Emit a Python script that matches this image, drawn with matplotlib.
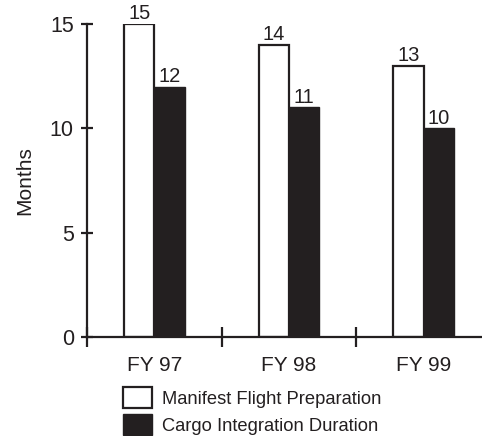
import matplotlib
matplotlib.use("Agg")
import matplotlib.pyplot as plt

# Fiscal-year durations (months)
categories = ["FY 97", "FY 98", "FY 99"]
manifest_prep = [15, 14, 13]
cargo_integration = [12, 11, 10]
series_names = ["Manifest Flight Preparation", "Cargo Integration Duration"]
y_ticks = [0, 5, 10, 15]

ink = "#231f20"
plt.rcParams["font.family"] = ["Liberation Sans", "DejaVu Sans"]

fig = plt.figure(figsize=(4.82, 4.36), dpi=100)
ax = fig.add_axes([0.1805, 0.2271, 0.83, 0.7179])

x = list(range(len(categories)))
w = 0.225
b1 = ax.bar([i - w / 2 for i in x], manifest_prep, width=w, color="white",
            edgecolor=ink, linewidth=1.6, label=series_names[0], zorder=2)
b2 = ax.bar([i + w / 2 for i in x], cargo_integration, width=w, color=ink,
            edgecolor=ink, linewidth=1.0, label=series_names[1], zorder=2)

for bars, vals in ((b1, manifest_prep), (b2, cargo_integration)):
    for rect, v in zip(bars, vals):
        ax.text(rect.get_x() + rect.get_width() / 2, v + 0.03, f"{v}",
                ha="center", va="bottom", fontsize=14.5, color=ink)

ax.set_xlim(-0.5, 2.47)
ax.set_ylim(0, 15)

for side in ("top", "right"):
    ax.spines[side].set_visible(False)
for side in ("left", "bottom"):
    ax.spines[side].set_color(ink)
    ax.spines[side].set_linewidth(1.6)
    ax.spines[side].set_clip_on(False)

ax.set_yticks(y_ticks)
ax.tick_params(axis="y", direction="inout", length=9, width=1.6, color=ink,
               labelsize=15.5, labelcolor=ink, pad=5)

ax.set_xticks([-0.5, 0.5, 1.5])
ax.set_xticklabels([])
ax.set_xticks(x, minor=True)
ax.set_xticklabels(categories, minor=True)
ax.tick_params(axis="x", which="major", direction="inout", length=15,
               width=1.6, color=ink)
ax.tick_params(axis="x", which="minor", length=0, labelsize=15,
               labelcolor=ink, pad=14)

ax.set_ylabel("Months", fontsize=15, color=ink, labelpad=11)

fig.legend(handles=[b1, b2], labels=series_names, loc="upper left",
           bbox_to_anchor=(0.256, 0.112), frameon=False, fontsize=13.2,
           handlelength=1.55, handleheight=1.4, handletextpad=0.55,
           labelspacing=0.3, borderaxespad=0, borderpad=0, labelcolor=ink)

fig.savefig("out.png", dpi=100)
